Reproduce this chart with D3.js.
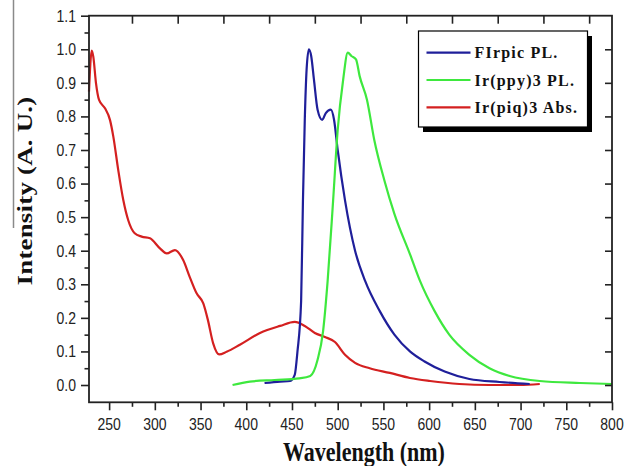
<!DOCTYPE html>
<html><head><meta charset="utf-8">
<script src="https://cdn.jsdelivr.net/npm/d3@7"></script>
<style>body{margin:0;background:#fff}svg{display:block}</style>
</head><body>
<script>
// ---- data ----
const seriesNames = ["FIrpic PL.", "Ir(ppy)3 PL.", "Ir(piq)3 Abs."];
const seriesColors = ["#1f1f9a", "#3ee83e", "#d42020"];
const xTicks = [250,300,350,400,450,500,550,600,650,700,750,800];
const yTicks = [0.0,0.1,0.2,0.3,0.4,0.5,0.6,0.7,0.8,0.9,1.0,1.1];
const firpicWl = [420,437,448,453,456,460,462,464,466,468.5,471,474,478,483,487,492.5,496,500,508,519,530,546,562,579,595,617,644,677,710];
const firpicI  = [0.006,0.01,0.012,0.03,0.10,0.25,0.55,0.79,0.94,1.0,0.98,0.91,0.82,0.79,0.81,0.82,0.79,0.70,0.55,0.40,0.31,0.22,0.15,0.10,0.07,0.04,0.018,0.009,0.003];
const ppyWl = [385,404,431,458,470,478,484,489,495,500,506,511,515,520,524,532,540,551,562,579,590,606,622,644,666,688,721,765,800];
const ppyI  = [0.0,0.01,0.015,0.02,0.027,0.075,0.16,0.31,0.55,0.76,0.91,0.99,0.98,0.97,0.92,0.85,0.73,0.61,0.51,0.39,0.31,0.22,0.15,0.09,0.05,0.027,0.012,0.006,0.003];
const piqWl = [228,231,232.7,235.6,239,245.5,251,254.6,260,265.5,271,278,285.6,294.7,305.6,313,322,331,338,345.7,353,358,363.8,370.4,378.5,393,415,437,453,464,475,486,497,508,519,535,557,579,601,633,666,699,721];
const piqI  = [0.874,0.996,0.978,0.90,0.849,0.824,0.789,0.74,0.64,0.551,0.49,0.452,0.442,0.437,0.407,0.392,0.402,0.372,0.323,0.273,0.243,0.194,0.124,0.091,0.099,0.12,0.155,0.176,0.188,0.176,0.155,0.143,0.128,0.09,0.066,0.05,0.036,0.021,0.012,0.003,0.0,0.0,0.003];

const W = 636, H = 466;
const svg = d3.select("body").append("svg").attr("width", W).attr("height", H);
svg.append("rect").attr("width", W).attr("height", H).attr("fill", "#fff");

const L = 89, R = 612, T = 15.7, B = 402.3;
const x = d3.scaleLinear().domain([228, 800]).range([L, R]);
const y = d3.scaleLinear().domain([-0.0515, 1.1]).range([B, T]);
const SY = 1.17; // vertical stretch of text in the original picture

// stray grey line on the left
svg.append("line").attr("x1", 13.5).attr("x2", 13.5).attr("y1", 0).attr("y2", 228)
  .attr("stroke", "#8a8a8a").attr("stroke-width", 1.5);

// curves
const series = [
  {wl: firpicWl, v: firpicI},
  {wl: ppyWl, v: ppyI},
  {wl: piqWl, v: piqI}
];
const line = d3.line().x(d => x(d[0])).y(d => y(d[1])).curve(d3.curveMonotoneX);
const plot = svg.append("g");
[2,0,1].forEach(i => {
  const s = series[i];
  plot.append("path").datum(s.wl.map((w,k) => [w, s.v[k]]))
    .attr("d", line).attr("fill", "none").attr("stroke", seriesColors[i])
    .attr("stroke-width", 2.2).attr("stroke-linejoin", "round");
});

// axes (tick marks from d3 axes)
const axColor = "#222";
const xMinor = d3.range(275, 800, 50);
const gB = svg.append("g").attr("transform", `translate(0,${B})`)
  .call(d3.axisBottom(x).tickValues(xTicks).tickSize(8).tickFormat(""));
const gBm = svg.append("g").attr("transform", `translate(0,${B})`)
  .call(d3.axisBottom(x).tickValues(xMinor).tickSize(4.5).tickFormat(""));
const gT = svg.append("g").attr("transform", `translate(0,${T})`)
  .call(d3.axisBottom(x).tickValues(xMinor).tickSize(8).tickFormat(""));
const gL = svg.append("g").attr("transform", `translate(${L},0)`)
  .call(d3.axisLeft(y).tickValues(yTicks).tickSize(8).tickFormat(""));
const gLm = svg.append("g").attr("transform", `translate(${L},0)`)
  .call(d3.axisLeft(y).tickValues(d3.range(0.05, 1.1, 0.1)).tickSize(4.5).tickFormat(""));
const gR = svg.append("g").attr("transform", `translate(${R},0)`)
  .call(d3.axisLeft(y).tickValues(yTicks.slice(0, 11)).tickSize(7).tickFormat(""));
[gB, gBm, gT, gL, gLm, gR].forEach(g => {
  g.select(".domain").remove();
  g.selectAll(".tick line").attr("stroke", axColor).attr("stroke-width", 1.6);
});
// tick labels (slightly stretched vertically like the original)
const tickFont = "'Liberation Sans', Arial, sans-serif";
svg.append("g").selectAll("text").data(xTicks).join("text")
  .attr("transform", d => `translate(${x(d)},430) scale(1,${SY})`)
  .attr("text-anchor", "middle").attr("font-family", tickFont).attr("font-size", 14)
  .attr("fill", "#222").text(d3.format("d"));
svg.append("g").selectAll("text").data(yTicks).join("text")
  .attr("transform", d => `translate(76,${y(d) + 5.8}) scale(1,${SY})`)
  .attr("text-anchor", "end").attr("font-family", tickFont).attr("font-size", 14)
  .attr("fill", "#222").text(d3.format(".1f"));

// frame
svg.append("rect").attr("x", L).attr("y", T).attr("width", R - L).attr("height", B - T)
  .attr("fill", "none").attr("stroke", axColor).attr("stroke-width", 1.8);

// axis titles
const serif = "'Liberation Serif', 'Times New Roman', serif";
svg.append("text").attr("transform", `translate(364,461) scale(1,1.2)`).attr("text-anchor", "middle")
  .attr("font-family", serif).attr("font-weight", "bold")
  .attr("font-size", 22).attr("fill", "#111").text("Wavelength (nm)");
svg.append("text").attr("transform", "translate(32,191) rotate(-90) scale(1.22,1)").attr("text-anchor", "middle")
  .attr("font-family", serif).attr("font-weight", "bold")
  .attr("font-size", 22).attr("letter-spacing", 0.2).attr("fill", "#111").text("Intensity (A. U.)");

// legend
const lg = svg.append("g");
lg.append("rect").attr("x", 423).attr("y", 36).attr("width", 169).attr("height", 96).attr("fill", "#000");
lg.append("rect").attr("x", 418.5).attr("y", 31).attr("width", 169).attr("height", 96)
  .attr("fill", "#fff").attr("stroke", "#000").attr("stroke-width", 1.2);
const legY = [52.7, 80, 107.3];
seriesNames.forEach((n, i) => {
  lg.append("line").attr("x1", 426.5).attr("x2", 470.5).attr("y1", legY[i]).attr("y2", legY[i])
    .attr("stroke", seriesColors[i]).attr("stroke-width", 2.2);
  lg.append("text").attr("x", 474.5).attr("y", legY[i] + 5.5)
    .attr("font-family", serif).attr("font-weight", "bold")
    .attr("font-size", 16).attr("letter-spacing", 1.2).attr("fill", "#111").text(n);
});
</script>
</body></html>
